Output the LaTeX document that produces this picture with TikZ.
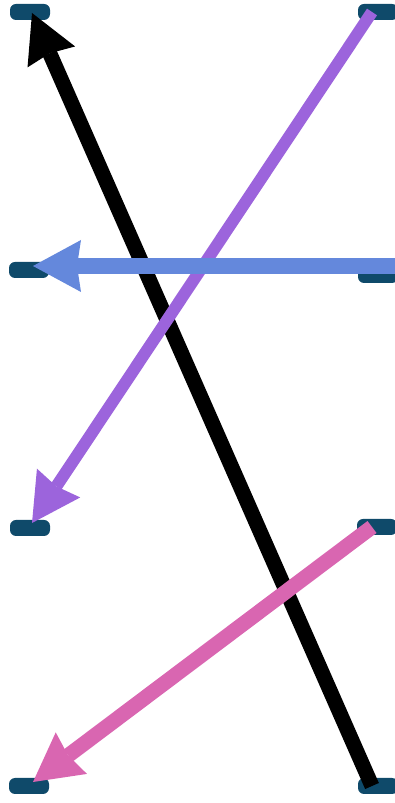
\documentclass[tikz,border=0pt]{standalone}
\usetikzlibrary{arrows.meta}
\definecolor{nodeblue}{HTML}{0F4A6A}
\definecolor{arrpurple}{HTML}{9C64DC}
\definecolor{arrblue}{HTML}{6488DC}
\definecolor{arrpink}{HTML}{D966B1}
\tikzset{
  dot/.style={draw=none, fill=nodeblue, rounded corners=6pt, minimum width=40pt, minimum height=16pt, inner sep=0pt},
  bigarrow/.style={line cap=butt, -{Stealth[length=48pt,width=52pt,inset=4pt,line width=0pt]}},
}
\begin{document}
\begin{tikzpicture}[x=1pt,y=1pt]
\useasboundingbox (0,0) rectangle (395,803);
\node[dot] (L1) at (30,791) {};
\node[dot] (R1) at (378,791) {};
\node[dot] (L2) at (29,533) {};
\node[dot] (R2) at (378,528) {};
\node[dot] (L3) at (30,275) {};
\node[dot] (R3) at (377,276) {};
\node[dot] (L4) at (29,17) {};
\node[dot] (R4) at (378,17) {};
\coordinate (B) at (395,537);
% black
\draw[bigarrow, line width=15pt, black] ([xshift=-6pt]R4.center) -- ([xshift=2pt,yshift=-1pt]L1.center);
% purple
\draw[bigarrow, line width=12pt, arrpurple] ([xshift=-6pt]R1.center) -- ([xshift=2pt,yshift=5pt]L3.center);
% blue
\draw[bigarrow, line width=16pt, arrblue] (B) -- ([xshift=4pt,yshift=4pt]L2.center);
% pink
\draw[bigarrow, line width=15pt, arrpink] ([xshift=-5pt]R3.center) -- ([xshift=4pt,yshift=4pt]L4.center);
\end{tikzpicture}
\end{document}
